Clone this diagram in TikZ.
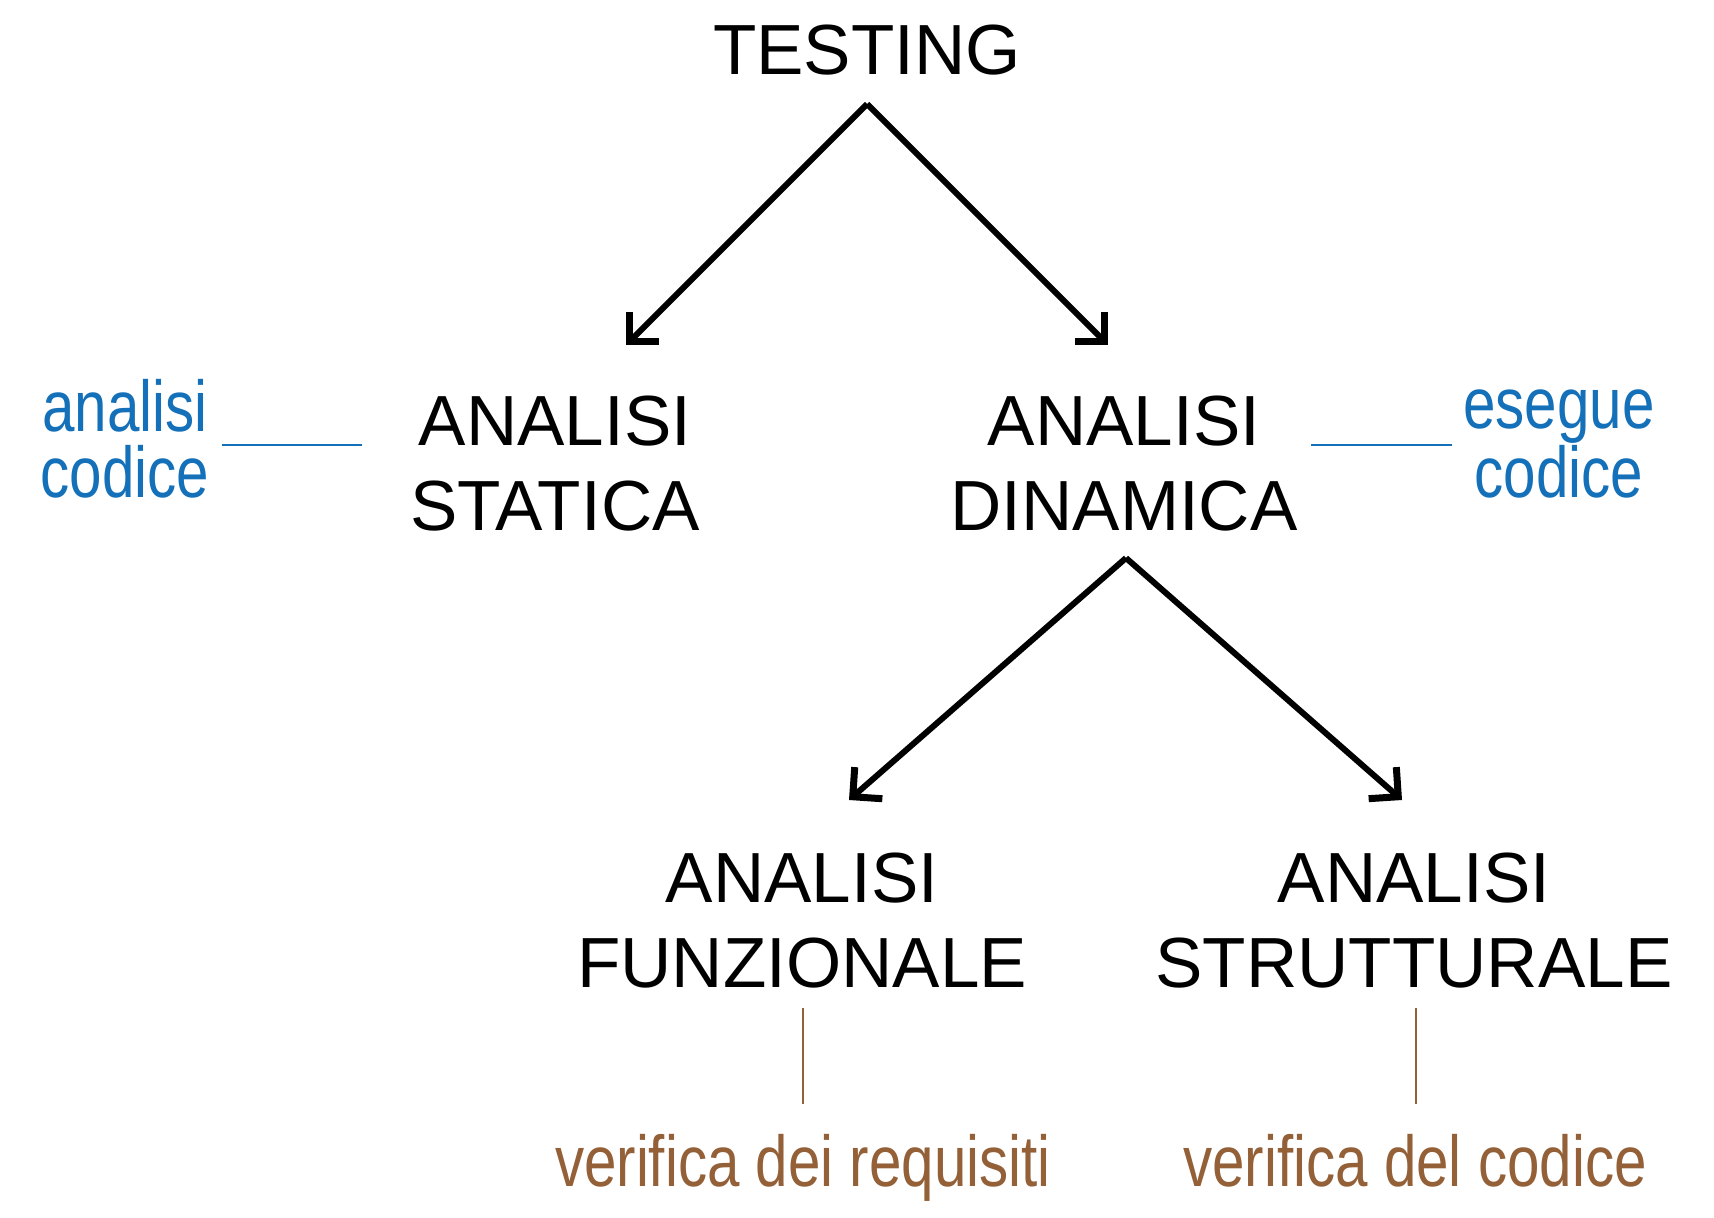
\documentclass[tikz,border=0pt]{standalone}
\usepackage{fontspec}
\setmainfont{Liberation Sans}
\newfontfamily\narrowfont[FakeStretch=0.81]{Liberation Sans}
\usetikzlibrary{arrows.meta}
\definecolor{noteblue}{RGB}{20,112,184}
\definecolor{notebrown}{RGB}{147,96,56}
\begin{document}
\begin{tikzpicture}[x=1pt,y=-1pt,
  mainlabel/.style={font=\fontsize{71}{85}\selectfont, inner sep=0pt, align=center, anchor=base},
  bluenote/.style={font=\narrowfont\fontsize{72}{66}\selectfont, text=noteblue, inner sep=0pt, align=center, anchor=base},
  brownnote/.style={font=\narrowfont\fontsize{72}{66}\selectfont, text=notebrown, inner sep=0pt, anchor=base},
  arr/.style={line width=6pt, line join=miter, -{Straight Barb[length=21pt,width=42pt,line width=7pt,line join=miter]}},
  bluelink/.style={draw=noteblue, line width=2pt},
  brownlink/.style={draw=notebrown, line width=2pt}]
\useasboundingbox (0,0) rectangle (1714,1218);
\fill[white] (0,0) rectangle (1714,1218);

\node[mainlabel] (testing) at (867,74) {TESTING};
\node[mainlabel] (statica) at (555,530) {ANALISI\\STATICA};
\node[mainlabel] (dinamica) at (1124,530) {ANALISI\\DINAMICA};
\node[mainlabel] (funz) at (802,987) {ANALISI\\FUNZIONALE};
\node[mainlabel] (strut) at (1414,987) {ANALISI\\STRUTTURALE};

\node[bluenote] (ancod) at (125,497) {analisi\\codice};
\node[bluenote] (escod) at (1559,497) {esegue\\codice};
\node[brownnote] (verreq) at (803,1186) {verifica dei requisiti};
\node[brownnote] (vercod) at (1415,1186) {verifica del codice};

\coordinate (tapex) at (867,104);
\coordinate (ttipL) at (626,345);
\coordinate (ttipR) at (1108,345);
\coordinate (dapex) at (1126,558);
\coordinate (dtipL) at (849,800);
\coordinate (dtipR) at (1402,800);

\draw[arr] (tapex) -- (ttipL);
\draw[arr] (tapex) -- (ttipR);
\draw[arr] (dapex) -- (dtipL);
\draw[arr] (dapex) -- (dtipR);

\coordinate (blA) at (222,445);
\coordinate (blB) at (362,445);
\coordinate (brA) at (1311,445);
\coordinate (brB) at (1452,445);
\draw[bluelink] (blA) -- (blB);
\draw[bluelink] (brA) -- (brB);

\coordinate (fA) at (803,1008);
\coordinate (fB) at (803,1104);
\coordinate (sA) at (1416,1008);
\coordinate (sB) at (1416,1104);
\draw[brownlink] (fA) -- (fB);
\draw[brownlink] (sA) -- (sB);
\end{tikzpicture}
\end{document}
